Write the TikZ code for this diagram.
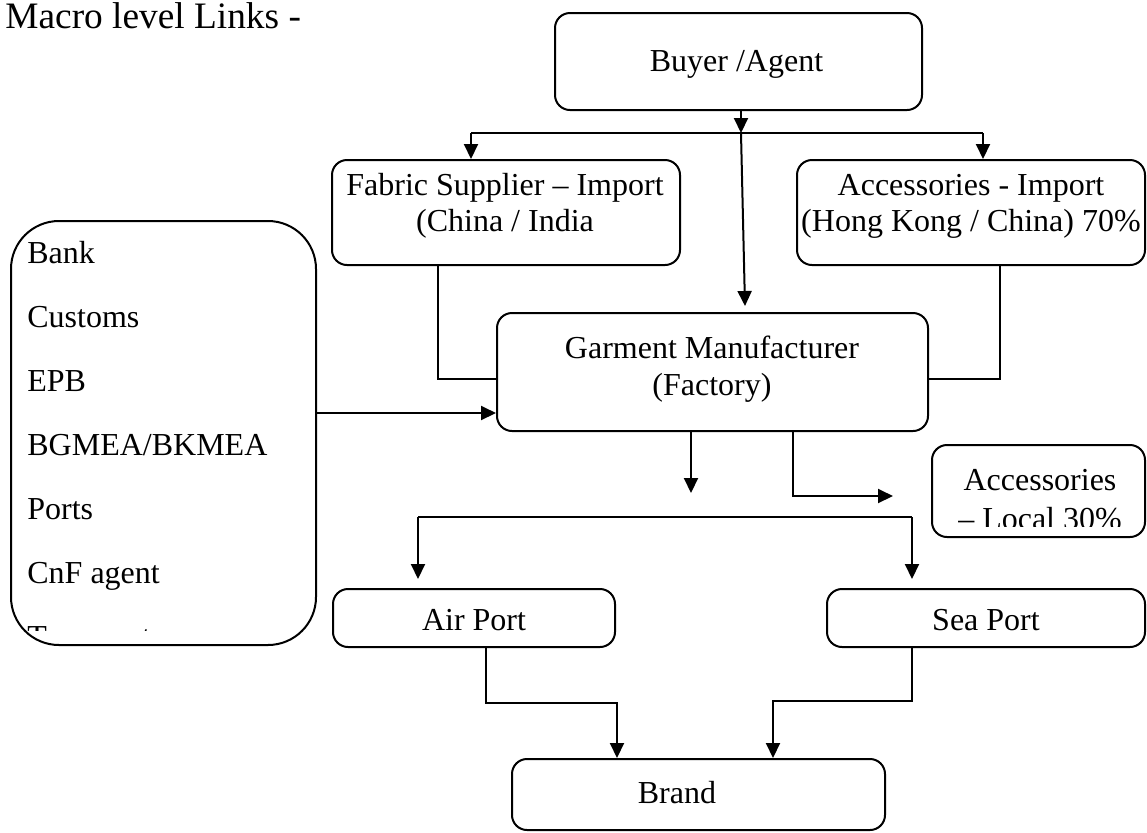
\documentclass[tikz,border=0pt]{standalone}
\usepackage{fontspec}
\setmainfont{Liberation Serif}
\usetikzlibrary{arrows.meta}
\begin{document}
\begin{tikzpicture}[x=0.5pt,y=-0.5pt,
  ln/.style={line width=1pt},
  arr/.style={line width=1pt,-{Triangle[width=7pt,length=7.5pt]}},
  box/.style={draw,line width=1pt,rounded corners=7.5pt,inner sep=0pt},
  bigbox/.style={draw,line width=1pt,rounded corners=24pt,inner sep=0pt},
  txt/.style={anchor=base,inner sep=0pt,font=\fontsize{16}{19}\selectfont},
  ltxt/.style={txt,anchor=base west},
  ttl/.style={anchor=base west,inner sep=0pt,font=\fontsize{18.67}{22}\selectfont}]
\useasboundingbox (0,0) rectangle (1147,832);

% boxes
\node[box,minimum width=183.5pt,minimum height=48.5pt] (buyer) at (738.5,61.5) {};
\node[box,minimum width=174pt,minimum height=52.5pt] (fabric) at (506,212.5) {};
\node[box,minimum width=174pt,minimum height=52.5pt] (accimp) at (971,212.5) {};
\node[bigbox,minimum width=152.5pt,minimum height=212pt] (left) at (163.5,433) {};
\node[box,minimum width=215.5pt,minimum height=59pt] (garment) at (712.5,372) {};
\node[box,minimum width=106.5pt,minimum height=46pt] (acclocal) at (1038.5,491) {};
\node[box,minimum width=141pt,minimum height=29pt] (air) at (474,618) {};
\node[box,minimum width=159pt,minimum height=29pt] (sea) at (986,618) {};
\node[box,minimum width=186.5pt,minimum height=35.5pt] (brand) at (698.5,794.5) {};

% texts
\node[ttl] (title) at (5,28) {Macro level Links -};
\node[txt] (buyerT) at (736.5,71) {Buyer /Agent};
\node[txt] (fabT1) at (505,195) {Fabric Supplier – Import};
\node[txt] (fabT2) at (505,231) {(China / India};
\node[txt] (accT1) at (971,195) {Accessories - Import};
\node[txt] (accT2) at (971,231) {(Hong Kong / China) 70\%};
\node[txt] (garT1) at (712,358) {Garment Manufacturer};
\node[txt] (garT2) at (712,395) {(Factory)};
\node[txt] (locT1) at (1040,490) {Accessories};
\begin{scope}
  \clip (932,445) rectangle (1145,526);
  \node[txt] (locT2) at (1040,529) {– Local 30\%};
\end{scope}
\node[txt] (airT) at (474,630) {Air Port};
\node[txt] (seaT) at (986,630) {Sea Port};
\node[txt] (brandT) at (677,803) {Brand};

\node[ltxt] (l1) at (27,263) {Bank};
\node[ltxt] (l2) at (27,327) {Customs};
\node[ltxt] (l3) at (27,391) {EPB};
\node[ltxt] (l4) at (27,455) {BGMEA/BKMEA};
\node[ltxt] (l5) at (27,519) {Ports};
\node[ltxt] (l6) at (27,583) {CnF agent};
\begin{scope}
  \clip (11,221) rectangle (316,630);
  \node[ltxt] (l7) at (27,647) {Transport};
\end{scope}

% coordinates
\coordinate (barL) at (471,133);
\coordinate (barR) at (983,133);
\coordinate (barM) at (741,133);
\coordinate (gtop) at (745,306);
\coordinate (fk) at (438,379);
\coordinate (ak) at (1000,379);
\coordinate (lk) at (316,413);
\coordinate (gd) at (691,493);
\coordinate (gr) at (793,496);
\coordinate (lt) at (893,496);
\coordinate (b2L) at (418,517);
\coordinate (b2R) at (912,517);
\coordinate (ap1) at (486,703);
\coordinate (ap2) at (617,703);
\coordinate (sp1) at (912,701);
\coordinate (sp2) at (773,701);

% connectors
\draw[arr] (buyer.south -| barM) -- (barM);
\draw[ln] (barL) -- (barR);
\draw[arr] (barL) -- (barL |- fabric.north);
\draw[arr] (barR) -- (barR |- accimp.north);
\draw[arr] (barM) -- (gtop);
\draw[ln] (fk |- fabric.south) -- (fk) -- (fk -| garment.west);
\draw[ln] (ak |- accimp.south) -- (ak) -- (ak -| garment.east);
\draw[arr] (left.east |- lk) -- (lk -| garment.west);
\draw[arr] (gd |- garment.south) -- (gd);
\draw[arr] (gr |- garment.south) -- (gr) -- (lt);
\draw[ln] (b2L) -- (b2R);
\draw[arr,shorten >=4.5pt] (b2L) -- (b2L |- air.north);
\draw[arr,shorten >=4.5pt] (b2R) -- (b2R |- sea.north);
\draw[arr] (ap1 |- air.south) -- (ap1) -- (ap2) -- (ap2 |- brand.north);
\draw[arr] (sp1 |- sea.south) -- (sp1) -- (sp2) -- (sp2 |- brand.north);
\end{tikzpicture}
\end{document}
